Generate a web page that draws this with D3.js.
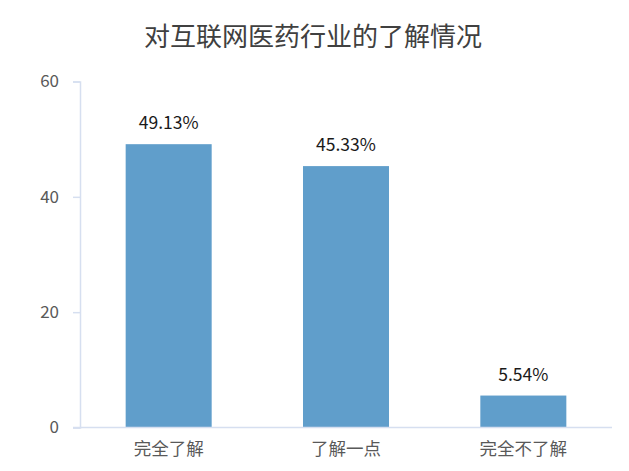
<!DOCTYPE html>
<html>
<head>
<meta charset="utf-8">
<script src="https://cdn.jsdelivr.net/npm/d3@7"></script>
<style>
  body { margin: 0; background: #ffffff; }
  text { font-family: "Noto Sans CJK SC", "Noto Sans", sans-serif; }
</style>
</head>
<body>
<div id="app"></div>
<script>
// data
let categories = ["完全了解", "了解一点", "完全不了解"];
let values = [49.13, 45.33, 5.54];
let valueLabels = ["49.13%", "45.33%", "5.54%"];
let yTicks = [0, 20, 40, 60];
let title = "对互联网医药行业的了解情况";

var width = 629,
  height = 471;

let svg = d3
  .select("#app")
  .append("svg")
  .attr("width", width)
  .attr("height", height)
  .attr("style", "background-color:#ffffff");

let x = d3
  .scaleBand()
  .domain(categories)
  .range([80, 612])
  .paddingInner(0.515)
  .paddingOuter(0.2575);

let y = d3.scaleLinear().domain([0, 60]).range([427.5, 81.5]);

// title
svg
  .append("text")
  .attr("x", 313)
  .attr("y", 46)
  .attr("text-anchor", "middle")
  .attr("font-size", 26)
  .attr("fill", "#404040")
  .text(title);

// y axis
let yAxis = svg
  .append("g")
  .attr("transform", "translate(80,0)")
  .call(d3.axisLeft(y).tickValues(yTicks).tickSize(7).tickPadding(14));
yAxis.select(".domain").attr("stroke", "#d6dff0").attr("stroke-width", 1.5);
yAxis.selectAll(".tick line").attr("stroke", "#d6dff0").attr("stroke-width", 1.5);
yAxis
  .selectAll(".tick text")
  .attr("font-size", 17)
  .attr("fill", "#595959")
  .attr("font-family", "'Noto Sans', sans-serif");

// bars
svg
  .append("g")
  .selectAll("rect")
  .data(values)
  .enter()
  .append("rect")
  .attr("x", (d, i) => x(categories[i]))
  .attr("y", (d) => y(d))
  .attr("width", x.bandwidth())
  .attr("height", (d) => y(0) - y(d))
  .attr("fill", "#609ecb");

// value labels
svg
  .append("g")
  .selectAll("text")
  .data(values)
  .enter()
  .append("text")
  .attr("x", (d, i) => x(categories[i]) + x.bandwidth() / 2)
  .attr("y", (d) => y(d) - 15)
  .attr("text-anchor", "middle")
  .attr("font-size", 17.5)
  .attr("fill", "#1a1a1a")
  .attr("font-family", "'Noto Sans', sans-serif")
  .text((d, i) => valueLabels[i]);

// x axis
let xAxis = svg
  .append("g")
  .attr("transform", "translate(0," + y(0) + ")")
  .call(d3.axisBottom(x).tickSize(0).tickPadding(15));
xAxis.select(".domain").remove();
xAxis
  .append("line")
  .attr("x1", 73)
  .attr("x2", 612)
  .attr("stroke", "#d6dff0")
  .attr("stroke-width", 1.5);
xAxis
  .selectAll(".tick text")
  .attr("font-size", 17.5)
  .attr("fill", "#595959")
  .attr("font-family", "'Noto Sans CJK SC', sans-serif");
</script>
</body>
</html>
